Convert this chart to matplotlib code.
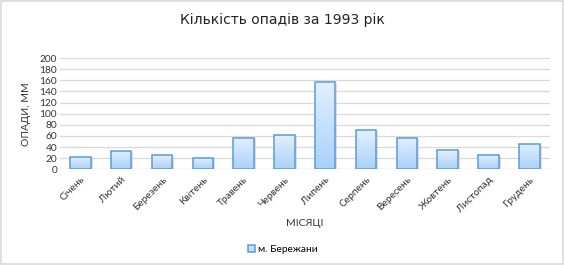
import numpy as np
import matplotlib
matplotlib.use("Agg")
import matplotlib.pyplot as plt
from matplotlib.patches import Rectangle

# Дані: кількість опадів по місяцях, мм
months = ["Січень", "Лютий", "Березень", "Квітень", "Травень", "Червень",
          "Липень", "Серпень", "Вересень", "Жовтень", "Листопад", "Грудень"]
precip = [23, 33, 25, 21, 57, 61, 157, 70, 56, 34, 25, 46]
yticks = [0, 20, 40, 60, 80, 100, 120, 140, 160, 180, 200]

plt.rcParams['font.family'] = ['Lato', 'DejaVu Sans']

fig = plt.figure(figsize=(5.65, 2.65), dpi=100)
fig.patch.set_facecolor('white')
# рамка навколо діаграми
fig.add_artist(Rectangle((0.002, 0.004), 0.995, 0.992, transform=fig.transFigure,
                         fill=False, edgecolor='#d9d9d9', linewidth=1.2))

ax = fig.add_axes([0.106, 0.361, 0.867, 0.42])
x = np.arange(len(months))
bars = ax.bar(x, precip, width=0.5, color='none', edgecolor='#5b9bd5',
              linewidth=1.1, zorder=3)

# градієнт заливки стовпців
grad = np.linspace(0, 1, 256).reshape(-1, 1)
cmap = matplotlib.colors.LinearSegmentedColormap.from_list('bl', ['#a9d1fa', '#e3f0ff'])
for b in bars:
    x0, w, h = b.get_x(), b.get_width(), b.get_height()
    # тінь
    ax.add_patch(Rectangle((x0 + 0.05, -1.5), w, h, facecolor='#c8c8c8',
                           edgecolor='none', alpha=0.6, zorder=2))
    im = ax.imshow(grad, extent=[x0, x0 + w, 0, h], origin='lower', cmap=cmap,
                   aspect='auto', zorder=2.5)
    rect = Rectangle((x0, 0), w, h, transform=ax.transData)
    im.set_clip_path(rect)

ax.set_xlim(-0.5, len(months) - 0.5)
ax.set_ylim(0, 200)
ax.set_yticks(yticks)
ax.set_xticks(x)
ax.set_xticklabels(months, rotation=45, ha='right', rotation_mode='anchor')
ax.tick_params(axis='both', length=0, labelsize=7.3, colors='#333333', pad=2)
ax.tick_params(axis='x', pad=4)
ax.grid(axis='y', color='#d9d9d9', linewidth=0.9, zorder=0)
for s in ax.spines.values():
    s.set_visible(False)
ax.axhline(0, color='#d9d9d9', linewidth=0.9, zorder=1)

ax.set_ylabel("ОПАДИ, ММ", fontsize=7.5, color='#333333', labelpad=6)
ax.set_xlabel("МІСЯЦІ", fontsize=7.5, color='#333333', labelpad=4)

fig.text(0.5, 0.925, "Кількість опадів за 1993 рік", ha='center', va='center',
         fontsize=10, color='#222222', family=['DejaVu Sans'])

leg = ax.legend([bars[0]], ["м. Бережани"], loc='center', bbox_to_anchor=(0.5, 0.06),
                bbox_transform=fig.transFigure, frameon=False, fontsize=7.3,
                handlelength=0.7, handleheight=0.7, handletextpad=0.3)
for h in leg.legend_handles:
    h.set_facecolor('#c5e0fc')

fig.savefig("out.png", dpi=100, facecolor='white')
